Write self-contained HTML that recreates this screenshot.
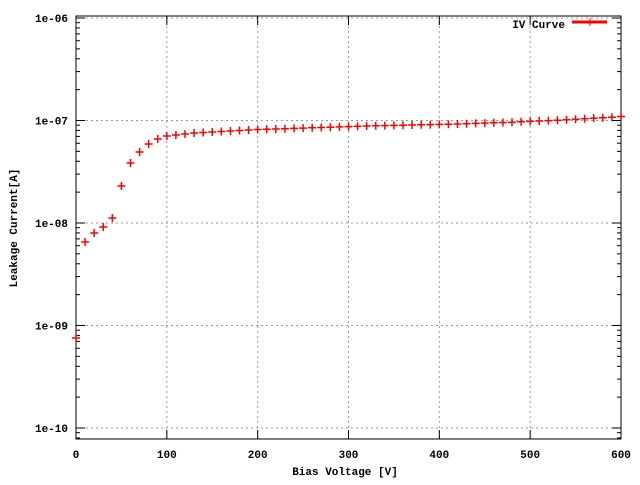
<!DOCTYPE html>
<html><head><meta charset="utf-8"><style>
body{margin:0;background:#fff}
svg text{font-family:"Liberation Mono",monospace;font-size:11px;font-weight:bold;fill:#000}
</style></head><body>
<svg id="s" width="640" height="480" xmlns="http://www.w3.org/2000/svg"></svg>
<script>
const s=document.getElementById('s');let h='';
const L=76,R=621,T=16,B=439;
const X=v=>L+(R-L)*v/600;
const Y=e=>120.5-(e+7)*102.5; // e = log10 value
// grid
for(let v=100;v<600;v+=100)h+=`<line x1="${X(v)}" y1="${T}" x2="${X(v)}" y2="${B}" stroke="#999" stroke-dasharray="2,3"/>`;
for(let e=-10;e<=-6;e++){const y=Y(e);h+=`<line x1="${L}" y1="${y}" x2="${R}" y2="${y}" stroke="#999" stroke-dasharray="2,3"/>`;
h+=`<text x="${L-8}" y="${y+4}" text-anchor="end">1e-${String(-e).padStart(2,'0')}</text>`;
h+=`<line x1="${L}" y1="${y}" x2="${L+9}" y2="${y}" stroke="#000"/><line x1="${R}" y1="${y}" x2="${R-9}" y2="${y}" stroke="#000"/>`;}
for(let e=-11;e<=-6;e++)for(let m=2;m<10;m++){const y=Y(e+Math.log10(m));if(y>T&&y<B)h+=`<line x1="${L}" y1="${y}" x2="${L+4}" y2="${y}" stroke="#000"/><line x1="${R}" y1="${y}" x2="${R-4}" y2="${y}" stroke="#000"/>`;}
for(let v=0;v<=600;v+=100){const x=X(v);h+=`<line x1="${x}" y1="${B}" x2="${x}" y2="${B-9}" stroke="#000"/><line x1="${x}" y1="${T}" x2="${x}" y2="${T+9}" stroke="#000"/><text x="${x}" y="${B+19}" text-anchor="middle">${v}</text>`;}
h+=`<rect x="${L}" y="${T}" width="${R-L}" height="${B-T}" fill="none" stroke="#000"/>`;
h+=`<text x="345" y="475" text-anchor="middle">Bias Voltage [V]</text>`;
h+=`<text transform="translate(17,228) rotate(-90)" text-anchor="middle">Leakage Current[A]</text>`;
h+=`<text x="565" y="28" text-anchor="end">IV Curve</text><line x1="572" y1="22" x2="607" y2="22" stroke="red" stroke-width="3"/><line x1="590" y1="18" x2="590" y2="26" stroke="red"/>`;
// data pixel y
const py=[338,242,233,227,218,186,163,152,144,139,136,135,134,133,132.5,132,131.5,131,130.5,130,129.5,129.3,129,128.7,128.4,128.1,127.8,127.5,127.2,126.9,126.6,126.3,126,125.8,125.6,125.4,125.2,125,124.8,124.6,124.4,124.2,124,123.7,123.4,123.1,122.8,122.5,122.2,121.8,121.4,121,120.6,120.2,119.8,119.3,118.8,118.3,117.8,117.2,116.5];
py.forEach((y,i)=>{const x=X(i*10);h+=`<path d="M${x-4} ${y}H${x+4}M${x} ${y-4}V${y+4}" stroke="red" stroke-width="1.5"/>`;});
s.innerHTML=h;
</script>
</body></html>
